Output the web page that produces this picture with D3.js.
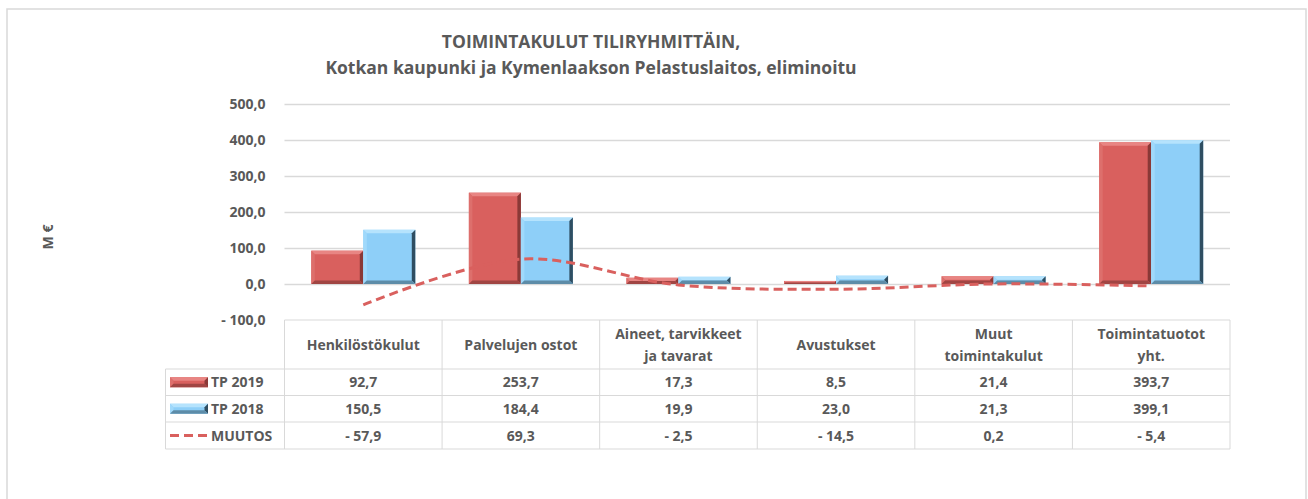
<!DOCTYPE html>
<html>
<head>
<meta charset="utf-8">
<script src="https://cdn.jsdelivr.net/npm/d3@7"></script>
<style>
  body { margin: 0; background: #fff; }
  text { font-family: "Open Sans", Lato, sans-serif; font-weight: bold; fill: #595959; }
</style>
</head>
<body>
<script>
/*global d3*/

var width = 1308, height = 499;

// data
var categories = [["Henkilöstökulut"], ["Palvelujen ostot"], ["Aineet, tarvikkeet", "ja tavarat"],
                  ["Avustukset"], ["Muut", "toimintakulut"], ["Toimintatuotot", "yht."]];
var tp2019 = [92.7, 253.7, 17.3, 8.5, 21.4, 393.7];
var tp2018 = [150.5, 184.4, 19.9, 23.0, 21.3, 399.1];
var muutos = [-57.9, 69.3, -2.5, -14.5, 0.2, -5.4];
var yTicks = [-100, 0, 100, 200, 300, 400, 500];
var seriesNames = ["TP 2019", "TP 2018", "MUUTOS"];

var plotLeft = 284.5, plotRight = 1230;

var fmt = function (v) {
  var s = d3.format(".1f")(Math.abs(v)).replace(".", ",");
  return (v < 0 ? "- " : "") + s;
};

var svg = d3.select("body")
            .append("svg")
            .attr("width", width)
            .attr("height", height);

// outer frame
svg.append("rect")
   .attr("x", 7).attr("y", 9)
   .attr("width", 1299).attr("height", 500)
   .attr("fill", "none")
   .attr("stroke", "#d9d9d9")
   .attr("stroke-width", 1.5);

var idx = d3.range(categories.length);

var x0 = d3.scaleBand()
           .domain(idx)
           .range([plotLeft, plotRight]);

var x1 = d3.scaleBand()
           .domain([0, 1])
           .range([x0.bandwidth() * 0.17, x0.bandwidth() * 0.83]);

var y = d3.scaleLinear()
          .domain([-100, 500])
          .range([320, 104]);

// title
svg.append("text")
   .attr("x", 591).attr("y", 48)
   .attr("text-anchor", "middle")
   .style("font-size", "17.5px")
   .text("TOIMINTAKULUT TILIRYHMITTÄIN,");
svg.append("text")
   .attr("x", 591).attr("y", 74)
   .attr("text-anchor", "middle")
   .style("font-size", "17.5px")
   .text("Kotkan kaupunki ja Kymenlaakson Pelastuslaitos, eliminoitu");

// y label
svg.append("text")
   .attr("transform", "translate(53,237) rotate(-90)")
   .attr("text-anchor", "middle")
   .style("font-size", "14px")
   .text("M €");

// grid + y axis
var yAxis = d3.axisLeft(y)
              .tickValues(yTicks)
              .tickSize(-(plotRight - plotLeft))
              .tickPadding(19)
              .tickFormat(fmt);

var ga = svg.append("g")
            .attr("transform", "translate(" + plotLeft + ",0)")
            .call(yAxis);
ga.select(".domain").remove();
ga.selectAll(".tick line").attr("stroke", "#d9d9d9").attr("stroke-width", 1.3);
ga.selectAll(".tick text").style("font-size", "14px").style("font-family", "'Open Sans', sans-serif")
  .attr("fill", "#595959");
ga.selectAll(".tick").filter(function (d) { return d === -100; }).select("line").remove();

// bevelled bars
var palettes = [
  { main: "#d9605e", top: "#e88583", left: "#dd6f6c", right: "#8a3937", bottom: "#a04543" },
  { main: "#8ecff8", top: "#b5e3fd", left: "#a0d9fb", right: "#2f4e62", bottom: "#5d8ca8" }
];

function bevelBar(g, bx, by, bw, bh, p) {
  var b = Math.min(3.5, bh / 2, bw / 2);
  g.append("rect").attr("x", bx).attr("y", by).attr("width", bw).attr("height", bh).attr("fill", p.main);
  var polys = [
    [[bx, by], [bx + bw, by], [bx + bw - b, by + b], [bx + b, by + b], p.top],
    [[bx, by], [bx + b, by + b], [bx + b, by + bh - b], [bx, by + bh], p.left],
    [[bx + bw, by], [bx + bw, by + bh], [bx + bw - b, by + bh - b], [bx + bw - b, by + b], p.right],
    [[bx, by + bh], [bx + b, by + bh - b], [bx + bw - b, by + bh - b], [bx + bw, by + bh], p.bottom]
  ];
  polys.forEach(function (q) {
    g.append("polygon")
     .attr("points", q.slice(0, 4).map(function (pt) { return pt.join(","); }).join(" "))
     .attr("fill", q[4]);
  });
}

var barsG = svg.append("g");
[tp2019, tp2018].forEach(function (vals, s) {
  vals.forEach(function (v, i) {
    var bx = x0(i) + x1(s);
    var top = y(Math.max(0, v)), bot = y(Math.min(0, v));
    bevelBar(barsG, bx, top, x1.bandwidth(), bot - top, palettes[s]);
  });
});

// MUUTOS line
var line = d3.line()
             .x(function (d, i) { return x0(i) + x0.bandwidth() / 2; })
             .y(function (d) { return y(d); })
             .curve(d3.curveCatmullRom.alpha(0.5));

svg.append("path")
   .datum(muutos)
   .attr("d", line)
   .attr("fill", "none")
   .attr("stroke", "#d9605e")
   .attr("stroke-width", 3)
   .attr("stroke-dasharray", "9,5");

// data table
var tableLeft = 165.5;
var rowY = [320, 369, 395.5, 422, 449];
var tg = svg.append("g");
var border = "#d9d9d9";

tg.append("line").attr("x1", plotLeft).attr("x2", plotRight).attr("y1", rowY[0]).attr("y2", rowY[0]).attr("stroke", border);
for (var r = 1; r < rowY.length; r++) {
  tg.append("line").attr("x1", tableLeft).attr("x2", plotRight).attr("y1", rowY[r]).attr("y2", rowY[r]).attr("stroke", border);
}
tg.append("line").attr("x1", tableLeft).attr("x2", tableLeft).attr("y1", rowY[1]).attr("y2", rowY[4]).attr("stroke", border);
idx.concat([categories.length]).forEach(function (i) {
  var xx = i < categories.length ? x0(i) : plotRight;
  tg.append("line").attr("x1", xx).attr("x2", xx).attr("y1", rowY[0]).attr("y2", rowY[4]).attr("stroke", border);
});

// header text
categories.forEach(function (lines, i) {
  var cx = x0(i) + x0.bandwidth() / 2;
  var mid = (rowY[0] + rowY[1]) / 2;
  lines.forEach(function (t, k) {
    tg.append("text")
      .attr("x", cx)
      .attr("y", mid + 5 + (k - (lines.length - 1) / 2) * 22)
      .attr("text-anchor", "middle")
      .style("font-size", "14px")
      .text(t);
  });
});

// value rows
[tp2019, tp2018, muutos].forEach(function (vals, s) {
  var mid = (rowY[s + 1] + rowY[s + 2]) / 2;
  vals.forEach(function (v, i) {
    tg.append("text")
      .attr("x", x0(i) + x0.bandwidth() / 2)
      .attr("y", mid + 5)
      .attr("text-anchor", "middle")
      .style("font-size", "14px")
      .text(fmt(v));
  });
  // legend key
  if (s < 2) {
    bevelBar(tg, 170, mid - 5, 38, 10, palettes[s]);
  } else {
    tg.append("line")
      .attr("x1", 170).attr("x2", 208)
      .attr("y1", mid).attr("y2", mid)
      .attr("stroke", "#d9605e")
      .attr("stroke-width", 3)
      .attr("stroke-dasharray", "9,5");
  }
  tg.append("text")
    .attr("x", 211)
    .attr("y", mid + 5)
    .style("font-size", "14px")
    .text(seriesNames[s]);
});
</script>
</body>
</html>
